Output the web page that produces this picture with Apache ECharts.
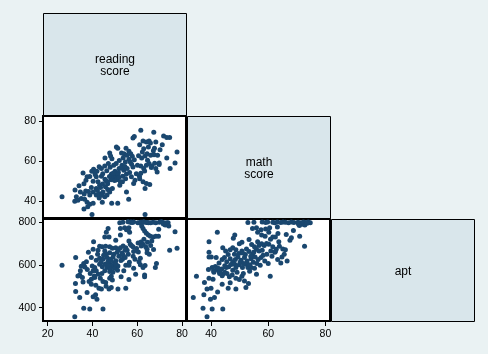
<!DOCTYPE html>
<html>
<head>
<meta charset="utf-8">
<script src="https://cdn.jsdelivr.net/npm/echarts@6/dist/echarts.min.js"></script>
<style>
  html, body { margin: 0; padding: 0; background: #eaf2f3; }
  #chart { width: 488px; height: 354px; }
</style>
</head>
<body>
<div id="chart"></div>
<script>
// reading score (x) vs math score (y)
var readMath = [
  [61.6,75.3],[67.4,74.3],[58.1,71.4],[58.7,72.2],[71.8,72.4],[73.2,71.7],[74.5,71.7],
  [61.1,68.1],[62.6,69.9],[64.1,69.4],[65.3,69.9],[65.9,68.9],[68.3,69.4],[71.2,68.1],
  [62.9,66.1],[65,66.9],[67.7,66.4],[67.2,65.1],[50.7,66.9],[51.3,66.3],[55,66.4],
  [77.8,64.5],[47.7,64],[53,64],[54.1,63.6],[48.1,62.5],[48.7,61.1],[45.6,61.5],
  [55.4,62.8],[57.8,62.3],[53.7,61.5],[56.3,60.8],[56.9,59.5],[62,61.5],[63.5,62.5],
  [64.4,63.6],[66,62.8],[67.5,63.1],[73.2,61.5],[54.7,59.5],[53.2,57.9],[51.9,56.2],
  [54,55.4],[55.5,56.2],[49.5,57.9],[47.1,58.7],[45.5,57.5],[44,56.2],[42,54.9],
  [40.5,55.9],[39.7,54.9],[41,54.5],[58.1,57],[60.1,57.9],[61.6,57.5],[62.9,56.2],
  [64.1,57.9],[65.3,58.7],[66.5,57.5],[68.3,56.2],[68.9,54.5],[69.8,58.2],[69.8,59],
  [76.9,59],[74.7,56.2],[50.1,54.9],[51.6,54.2],
  [48.5,53.5],[49.2,52.8],[50,53.4],[50.7,52.4],[51.4,53],[48.8,51.8],[49.6,51.2],
  [50.4,51.6],[51.1,51],[48.3,50.6],[49.9,50.3],[50.8,50.6],[47.6,52.3],[51.8,51.8],[49.3,53.9],
  [35.8,54],[37.6,52.1],[41.7,52.1],[44,52.4],[45.6,50.9],[46.7,49.6],[40.3,49.9],
  [42.5,49.6],[43.2,47.9],[41.7,46.3],[40.3,44.6],[38.8,43],[37,45],[34,47.6],
  [32.2,45.5],[34.6,44.6],[32.8,42.2],[32.1,40],[33.5,40.5],[35,41.3],[36.5,41],
  [37.6,39.4],[38.8,38.4],[40.3,38.9],[41.7,43],[43.2,43.7],[44.7,44.6],[45.5,42.2],
  [46.5,43],[47.7,44.6],[48.9,46.3],[52.2,47.9],[53.4,49.6],[55.2,44.6],[56.2,40.9],
  [48.6,38.9],[51.3,38.9],[44.4,39.4],[36.2,36.1],[37.9,37.2],[26.4,42.2],[39.8,33.3],[63.5,33.3],
  [57.4,52.1],[59,50.4],[58.4,48.8],[61.1,51.2],[62.6,49.6],[64.1,48.8],[65.6,48.3],
  [63.5,46.3],[61,52.4],[59.6,53.7],[56.6,54.2],
  [44.5,48.5],[45.8,47.2],[46.8,48.6],[47.5,45.5],[52.5,49.6],[53.5,52.4],[54.8,51.2],
  [55.2,53.5],[46,50.2],[43.6,46.8],[42.2,45.3],[39.5,46.8],[38.2,44.8],[36.3,43.5],
  [43,41.5],[44.2,42.9],[46.8,45.8],[52.8,56.5],[54.5,57.2],[57.5,58.4],[58.7,60.6],
  [60.6,62.6],[62.3,64.5],[64.6,60.3],[66.3,56.8],[67.8,58.9],[69.1,62.8],[70.2,65.6],
  [63.3,55],[61.6,53.9],[56.3,64.8],[57.1,63.6],[52,60.2],[50.6,58.8],[47.9,56.9],
  [46.4,55.1],[44.6,53.6],[43,57.1],[41.2,53.3],[38.8,52.3],[37.1,50.4],[36.2,48.6]
];

// reading score (x) vs apt (y)
var readApt = [
  [52.2,797],[56.9,799],[57.8,798],[58.4,800],[61.1,797],[62,799],[63,800],[64.1,798],
  [65,797],[67.1,799],[68.3,796],[71.5,798],[72.4,795],[73.3,797],[60.3,797],[61.6,799],
  [62.8,800],[64.6,798],[66,797],[69.9,799],[70.8,801],[73.8,796],[57.3,800],[55.9,801],
  [53.6,799],[72.5,786],[71.7,791],
  [47,770],[52.5,770],[54.4,773],[55.2,764],[56.3,773],[56.6,752],[62,781],[62.6,770],
  [63.3,758],[64.1,747],[65,739],[65.9,733],[67.1,730],[68.3,733],[69.5,733],[69.6,766],
  [72.7,792],[74.1,781],[76.9,755],[46.2,752],[45.5,730],[47.4,730],[50.4,715],[52.5,739],
  [40.5,708],[56.3,711],[56.9,696],[60.4,702],[61.7,707],[62.6,696],[63.8,684],[64.4,673],
  [64.4,657],[66.5,711],[74.5,668],[77.8,677],
  [43.2,687],[44.4,684],[45.9,687],[47.7,684],[48.9,677],[50.4,680],[51.6,671],[52.5,680],
  [53.7,688],[54.9,680],[55.5,668],[58.1,684],[58.4,662],[40.3,673],[38.2,659],[42.5,668],
  [45.5,665],[46.2,650],[47.7,657],[49.5,650],[51,659],[53.7,646],[56,650],
  [32.5,634],[39.5,634],[41.7,622],[43.2,631],[44.7,626],[46.5,634],[47.7,626],[49.2,637],
  [50.4,619],[53.4,626],[54.6,634],[59,626],[61.4,631],[37.3,615],[36.1,606],[35,594],
  [34.6,572],[26.4,598],[39.9,595],[41,588],[41.7,572],[40.3,572],[43.2,603],[44.4,591],
  [45.6,603],[46.5,588],[47.7,606],[48.9,595],[49.9,584],[51.4,595],[45.5,572],[47.7,569],
  [54.9,598],[56.3,598],[58.4,584],[60.8,615],[61.4,600],[62.6,588],[63.5,597],[68.6,606],
  [68.1,588],[52.8,544],[56.3,532],[59.3,556],[63.3,553],[63.3,544],
  [34.3,553],[35.5,541],[39.5,533],[41,541],[43.5,538],[44.7,522],[45.9,518],[47.7,538],
  [48.4,547],[48.9,529],[32.4,513],[38.5,522],[39.5,510],[42.9,491],[44,487],[47.4,487],
  [48.4,494],[51.4,487],[54.9,491],[32.5,476],[34.3,448],[37.6,471],[40.3,451],[41.4,460],
  [42,440],[36.1,398],[38.8,394],[44.7,394],[32.1,358],
  [46.9,615],[48.2,622],[49.8,610],[50.5,603],[51.8,640],[52.7,620],[47.2,596],[48,580],
  [49.1,566],[51.2,575],[44.2,560],[42.6,556],[40.8,548],[39,560],[43.8,612],[45,645],
  [42.3,650],[53.2,655],[54.6,668],[57.4,690],[59.7,676],[60.5,660],[61.8,688],[63,720],
  [64.6,705],[66,690],[67.3,672],[65.4,650],[58.2,640],[56.5,612],[54,572],[37.7,578],
  [36.6,590],[33.5,548],[35.8,520],[41.5,505],[46.1,500]
];

// math score (x) vs apt (y)
var mathApt = [
  [52.9,798],[55,799],[57.9,800],[59.1,798],[59.8,800],[61.6,799],[62.3,797],[63.2,800],
  [64.4,798],[65.2,800],[66,799],[67.1,797],[68.1,800],[69,798],[70.4,799],[71.3,797],
  [72.3,800],[73.1,798],[74,800],[74.7,797],[71.8,790],[72.8,786],[73.6,794],[70.9,784],
  [54.5,770],[55.9,773],[57.5,764],[59.1,767],[60.5,773],[63.2,777],[70.6,789],
  [42.2,752],[48.3,739],[47.8,724],[56.3,752],[57.7,739],[58.9,733],[60.2,752],[61.6,730],
  [63.4,746],[68.1,727],[67.6,715],[71,733],
  [39.3,708],[49.9,699],[50.8,705],[53.3,718],[56.3,708],[57.7,699],[58.6,690],[60.2,696],
  [61.6,684],[63.7,708],[63.9,687],[65.1,674],[66,671],[72.7,687],
  [44.1,680],[45.1,665],[46.7,671],[47.6,680],[48.7,671],[49.7,653],[50.8,665],[52.4,674],
  [53.3,662],[54.5,649],[55.2,684],[55.9,673],[56.8,665],[57.9,668],[59.5,649],[60.9,665],
  [62.3,659],[62.8,673],
  [39.3,659],[39.3,637],[40.1,637],[41.8,634],[42.8,609],[43.9,625],[44.7,634],[45.5,615],
  [46.7,628],[47.6,615],[48.5,625],[49.4,637],[50.5,622],[51.7,634],[52.6,618],[54,628],
  [55.4,637],[56.5,625],[57.5,634],[58.8,618],[60,606],[62.5,662],[64.8,637],[64.4,609],
  [66.6,618],
  [39.1,578],[40.4,588],[40.9,572],[42.1,578],[42.8,569],[43.7,581],[44.1,556],[45.3,588],
  [46.2,591],[47.6,575],[48.7,588],[49.9,600],[51,588],[52.2,603],[52.9,588],[54,588],
  [55.2,584],[55.9,556],[43.9,549],[46.4,544],[47.4,553],[48.7,538],[49.9,532],[50.8,547],
  [51.3,560],[51.7,525],[60.7,547],
  [34.9,547],[37.7,518],[39.3,538],[40.7,533],[43.9,510],[46.7,516],[46,491],[48.7,487],
  [52.2,494],[53.1,513],[38.6,487],[40,491],[42.3,473],[39.8,440],[41.2,448],[37.5,460],
  [33.8,448],[37.2,398],[40.4,394],[44.1,394],[38.6,358],
  [41.5,592],[42.4,585],[43.2,575],[41,565],[44.8,566],[43,560],[45.6,560],
  [50.2,612],[51.4,606],[53.6,600],[54.8,612],[56,606],[57.2,598],[58.2,645],[53.9,640],
  [52,648],[51,655],[55,660],[56.8,690],[54.2,695],[48.2,650],[46,648],[44.8,596],
  [47,602],[49.1,565],[53.5,570],[48.3,603],[61.3,640],[63.3,625],[65.6,650],[59.4,700],
  [60.8,720],[62.5,730],[66.3,742],[68.8,760]
];

var varLabels = ["reading\nscore", "math\nscore", "apt"];
var readTicks = [20, 40, 60, 80];
var mathTicks = [40, 60, 80];
var aptTicks = [400, 600, 800];

var markColor = "#1a476f";
var fontFamily = "'Liberation Sans', Arial, sans-serif";

// panel boxes: [left, top, width, height]
var cells = [
  [43, 116, 143, 102], // read x math
  [43, 219, 143, 102], // read x apt
  [187, 219, 143, 102] // math x apt
];
var diagBoxes = [
  [43, 13, 143, 102],
  [187, 116, 143, 102],
  [331, 219, 143, 102]
];

function valueAxis(gridIndex, min, max, ticks, showLabels, isX) {
  return {
    type: "value",
    gridIndex: gridIndex,
    min: min,
    max: max,
    splitLine: { show: false },
    axisLine: { show: false },
    axisTick: {
      show: showLabels,
      length: isX ? 5 : 4,
      lineStyle: { color: "#000", width: 1 },
      customValues: ticks
    },
    axisLabel: {
      show: showLabels,
      margin: isX ? 8 : 7,
      color: "#000",
      fontSize: 10.5,
      fontFamily: fontFamily,
      customValues: ticks
    }
  };
}

var myChart = echarts.init(document.getElementById("chart"));

myChart.setOption({
  backgroundColor: "#eaf2f3",
  animation: false,
  graphic: diagBoxes.map(function(b, i) {
    return {
      type: "group",
      left: b[0],
      top: b[1],
      children: [
        {
          type: "rect",
          shape: { x: 0, y: 0, width: b[2], height: b[3] },
          style: { fill: "#d9e6eb", stroke: "#000", lineWidth: 1 }
        },
        {
          type: "text",
          x: b[2] / 2,
          y: b[3] / 2 + 1,
          style: {
            text: varLabels[i],
            fill: "#000",
            font: "12px " + fontFamily,
            align: "center",
            verticalAlign: "middle",
            lineHeight: 12
          }
        }
      ]
    };
  }),
  grid: cells.map(function(c) {
    return {
      left: c[0],
      top: c[1],
      width: c[2],
      height: c[3],
      show: true,
      backgroundColor: "#fff",
      borderColor: "#000",
      borderWidth: 2
    };
  }),
  xAxis: [
    valueAxis(0, 17.9, 81.8, readTicks, false, true),
    valueAxis(1, 17.9, 81.8, readTicks, true, true),
    valueAxis(2, 31.6, 81.6, mathTicks, true, true)
  ],
  yAxis: [
    valueAxis(0, 31.6, 82.4, mathTicks, true, false),
    valueAxis(1, 338, 814, aptTicks, true, false),
    valueAxis(2, 338, 814, aptTicks, false, false)
  ],
  series: [readMath, readApt, mathApt].map(function(d, i) {
    return {
      type: "scatter",
      xAxisIndex: i,
      yAxisIndex: i,
      data: d,
      symbol: "circle",
      symbolSize: 5,
      itemStyle: { color: markColor, opacity: 1 },
      silent: true
    };
  })
});
</script>
</body>
</html>
